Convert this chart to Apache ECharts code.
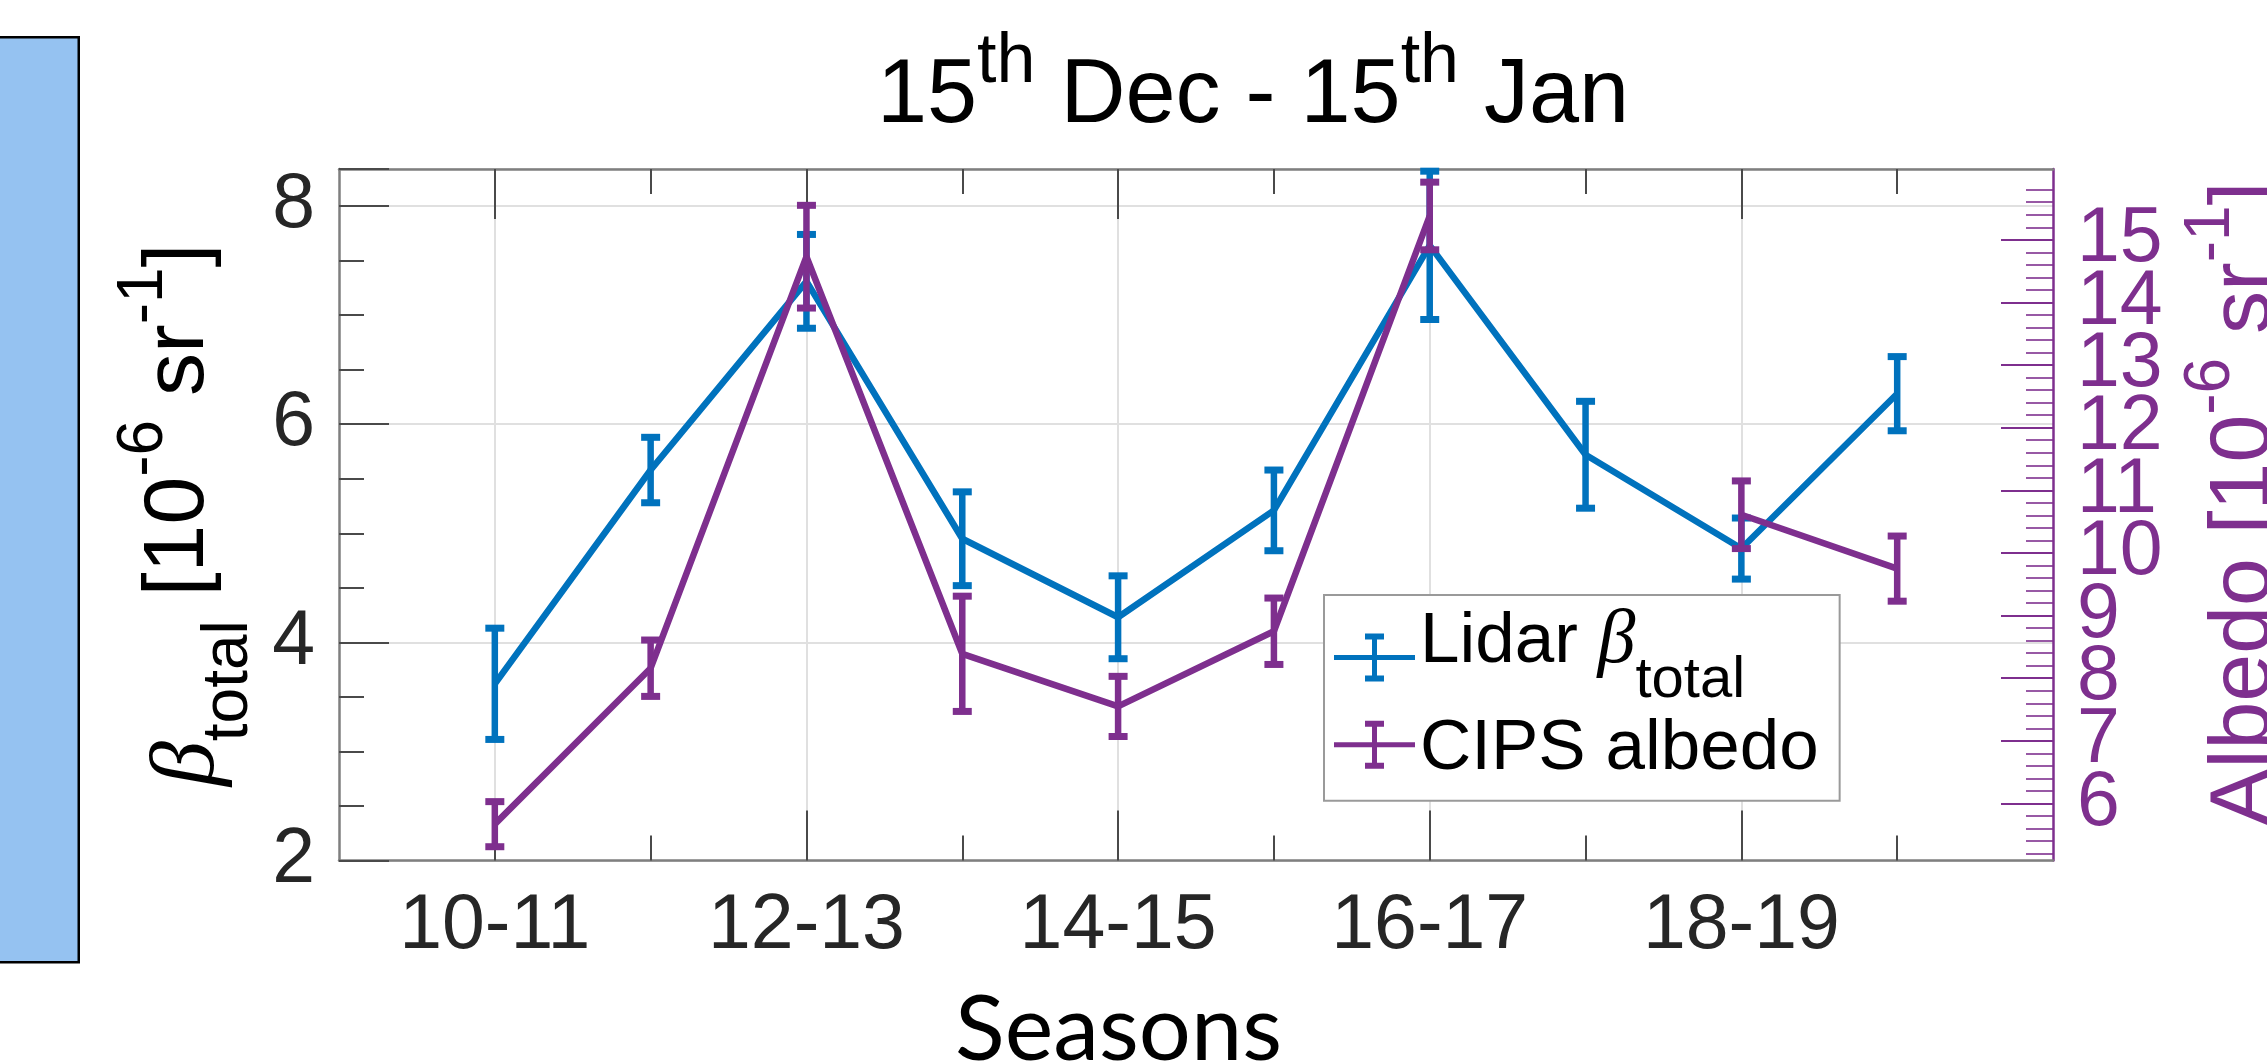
<!DOCTYPE html>
<html>
<head>
<meta charset="utf-8">
<script src="https://cdn.jsdelivr.net/npm/echarts@6/dist/echarts.min.js"></script>
<style>
html,body{margin:0;padding:0;background:#fff;}
#chart{width:2267px;height:1064px;}
</style>
</head>
<body>
<div id="chart"></div>
<script>
// ---------------- data ----------------
const seasons = ['10-11','11-12','12-13','13-14','14-15','15-16','16-17','17-18','18-19','19-20'];
const labeledSeasons = ['10-11','12-13','14-15','16-17','18-19'];
const lidarBeta = [3.62, 5.58, 7.31, 4.95, 4.23, 5.21, 7.64, 5.72, 4.86, 6.28];
const lidarErr  = [0.51, 0.30, 0.43, 0.43, 0.38, 0.37, 0.68, 0.49, 0.28, 0.34];
const cipsAlbedo = [5.67, 8.16, 14.73, 8.39, 7.55, 8.75, 15.38, null, 10.61, 9.75];
const cipsErr    = [0.36, 0.45, 0.82, 0.92, 0.48, 0.53, 0.54, null, 0.54, 0.52];
const leftTickLabels = [2, 4, 6, 8];
const rightTickLabels = [6, 7, 8, 9, 10, 11, 12, 13, 14, 15];

// ---------------- styling ----------------
const BLUE = '#0072BD';
const PURPLE = '#7E2F8E';
const FONT = '"Liberation Sans", Arial, Helvetica, sans-serif';
const SERIF = '"Liberation Serif", "DejaVu Serif", serif';
const AXIS_GRAY = '#7f7f7f';
const TICK_GRAY = '#4a4a4a';
const GRID_GRAY = '#e0e0e0';
const LEFT_MIN = 2, LEFT_MAX = 8.34;
const RIGHT_MIN = 5.09, RIGHT_MAX = 16.13;
const LW = 6.5;

const cats = [''].concat(seasons, ['']);
const isLabeled = (i) => labeledSeasons.indexOf(cats[i]) >= 0;
const isMinor = (i) => i >= 1 && i <= seasons.length && !isLabeled(i);

// right labels are split over two overlaid axes so that ECharts does not drop touching labels
const rightLabelsEven = rightTickLabels.filter((v) => v % 2 === 0);
const rightLabelsOdd = rightTickLabels.filter((v) => v % 2 === 1);

const rightMinor = [];
for (let k = 26; k <= 80; k++) { if (k % 5 !== 0) rightMinor.push(+(k * 0.2).toFixed(1)); }

const lidarLine = lidarBeta.map((v, i) => [i + 1, v]);
const lidarBars = lidarBeta.map((v, i) => [i + 1, v - lidarErr[i], v + lidarErr[i]]);
const cipsLine = cipsAlbedo.map((v, i) => [i + 1, v]);
const cipsBars = cipsAlbedo.map((v, i) => v == null ? [i + 1, null, null] : [i + 1, v - cipsErr[i], v + cipsErr[i]]);

function errRender(color) {
  return function (params, api) {
    const lo = api.value(1), hi = api.value(2);
    if (lo == null || isNaN(lo)) return null;
    const x = api.value(0);
    const top = api.coord([x, hi]);
    const bot = api.coord([x, lo]);
    const cw = 9.5, ch = 3.5;
    return {
      type: 'group',
      children: [
        { type: 'line', shape: { x1: top[0], y1: top[1], x2: bot[0], y2: bot[1] }, style: { stroke: color, lineWidth: LW } },
        { type: 'rect', shape: { x: top[0] - cw, y: top[1] - ch, width: 2 * cw, height: 2 * ch }, style: { fill: color } },
        { type: 'rect', shape: { x: bot[0] - cw, y: bot[1] - ch, width: 2 * cw, height: 2 * ch }, style: { fill: color } }
      ]
    };
  };
}

const ICON = 'path://M0,21.5h81v5h-81z M38,0h5v48h-5z M31,0h19v6h-19z M31,42h19v6h-19z';

function xAxisDef(position, lengthTicks, intervalFn, main) {
  return {
    type: 'category', data: cats, boundaryGap: false, position: position,
    axisLine: { show: main, lineStyle: { color: AXIS_GRAY, width: 2.5 } },
    axisTick: { show: true, inside: true, length: lengthTicks, interval: intervalFn, lineStyle: { color: TICK_GRAY, width: 2 } },
    axisLabel: { show: false },
    splitLine: { show: false }
  };
}

const xMain = xAxisDef('bottom', 50, (i) => isLabeled(i), true);
xMain.axisLabel = { show: true, interval: (i) => isLabeled(i), color: '#262626', fontSize: 77, fontFamily: FONT, margin: 28 };
xMain.splitLine = { show: true, interval: (i) => isLabeled(i), lineStyle: { color: GRID_GRAY, width: 2 } };

const rightLabelStyle = (vals) => ({ customValues: vals, showMinLabel: true, showMaxLabel: true,
  color: PURPLE, fontSize: 77, fontFamily: FONT, margin: 24 });

const option = {
  animation: false,
  backgroundColor: '#ffffff',
  title: {
    text: '{n|15}{s|th}{n| Dec - 15}{s|th}{n| Jan}',
    left: 877, top: 28, padding: 0,
    textStyle: {
      fontWeight: 'normal',
      rich: {
        n: { fontSize: 90, fontFamily: FONT, fontWeight: 'normal', color: '#000' },
        s: { fontSize: 70, fontFamily: FONT, fontWeight: 'normal', color: '#000', padding: [0, 0, 68, 0] }
      }
    }
  },
  grid: { left: 339, right: 214, top: 169, bottom: 203.5, containLabel: false, outerBoundsMode: 'none' },
  legend: {
    orient: 'vertical', left: 1324, top: 595,
    padding: [9.5, 21, 16, 10], itemGap: 3.7, itemWidth: 81, itemHeight: 48,
    backgroundColor: '#ffffff', borderColor: '#9a9a9a', borderWidth: 2,
    itemStyle: { borderWidth: 0 },
    data: [{ name: 'Lidar', icon: ICON }, { name: 'CIPS albedo', icon: ICON }],
    formatter: (n) => n === 'Lidar' ? '{a|Lidar }{b|β}{c|total}' : '{d|CIPS albedo}',
    textStyle: {
      color: '#000', fontFamily: FONT, fontSize: 71,
      rich: {
        a: { fontSize: 71, fontFamily: FONT, color: '#000', padding: [0, 0, 30, 0] },
        b: { fontSize: 76, fontFamily: SERIF, fontStyle: 'italic', color: '#000', padding: [0, 0, 30, 0] },
        c: { fontSize: 58, fontFamily: FONT, color: '#000', padding: [47, 0, 0, 0] },
        d: { fontSize: 71, fontFamily: FONT, color: '#000', padding: [9, 0, 0, 0] }
      }
    }
  },
  xAxis: [
    xMain,
    xAxisDef('bottom', 25, (i) => isMinor(i), false),
    xAxisDef('top', 50, (i) => isLabeled(i), true),
    xAxisDef('top', 25, (i) => isMinor(i), false)
  ],
  yAxis: [
    {
      type: 'value', position: 'left', min: LEFT_MIN, max: LEFT_MAX, interval: 2,
      axisLine: { show: true, lineStyle: { color: AXIS_GRAY, width: 2.5 } },
      axisTick: { show: true, inside: true, length: 50, lineStyle: { color: TICK_GRAY, width: 2 } },
      axisLabel: { customValues: leftTickLabels, showMinLabel: true, showMaxLabel: true, color: '#262626', fontSize: 77, fontFamily: FONT, margin: 24 },
      splitLine: { show: true, lineStyle: { color: GRID_GRAY, width: 2 } },
      name: '{b|β}{s|total}{n| [10}{p|-6}{n| sr}{p|-1}{n|]}',
      nameLocation: 'middle', nameRotate: 90, nameGap: 75,
      nameTextStyle: {
        color: '#000', fontFamily: FONT, fontSize: 86,
        rich: {
          b: { fontSize: 90, fontFamily: SERIF, fontStyle: 'italic', color: '#000', padding: [20, 0, 0, 0] },
          s: { fontSize: 64, fontFamily: FONT, color: '#000', padding: [100, 0, 0, 0] },
          n: { fontSize: 86, fontFamily: FONT, color: '#000' },
          p: { fontSize: 64, fontFamily: FONT, color: '#000', padding: [0, 0, 69, 0] }
        }
      }
    },
    {
      type: 'value', position: 'left', min: LEFT_MIN, max: LEFT_MAX, interval: 0.5,
      axisLine: { show: false },
      axisTick: { show: true, inside: true, length: 25, lineStyle: { color: TICK_GRAY, width: 2 } },
      axisLabel: { show: false }, splitLine: { show: false }
    },
    {
      type: 'value', position: 'right', min: RIGHT_MIN, max: RIGHT_MAX,
      axisLine: { show: true, lineStyle: { color: PURPLE, width: 2.5 } },
      axisTick: { show: true, inside: true, length: 52, customValues: rightTickLabels, lineStyle: { color: PURPLE, width: 2 } },
      axisLabel: rightLabelStyle(rightLabelsEven),
      splitLine: { show: false },
      name: '{n|Albedo [10}{p|-6}{n| sr}{p|-1}{n|]}',
      nameLocation: 'middle', nameRotate: 90, nameGap: 126,
      nameTextStyle: {
        color: PURPLE, fontFamily: FONT, fontSize: 86, padding: [0, 0, 0, 22],
        rich: {
          n: { fontSize: 86, fontFamily: FONT, color: PURPLE },
          p: { fontSize: 64, fontFamily: FONT, color: PURPLE, padding: [0, 0, 69, 0] }
        }
      }
    },
    {
      type: 'value', position: 'right', min: RIGHT_MIN, max: RIGHT_MAX,
      axisLine: { show: false },
      axisTick: { show: true, inside: true, length: 27, customValues: rightMinor, lineStyle: { color: PURPLE, width: 2, opacity: 0.8 } },
      axisLabel: rightLabelStyle(rightLabelsOdd),
      splitLine: { show: false }
    }
  ],
  series: [
    { name: 'Lidar', type: 'line', xAxisIndex: 0, yAxisIndex: 0, data: lidarLine, symbol: 'none',
      lineStyle: { color: BLUE, width: LW }, itemStyle: { color: BLUE }, z: 3 },
    { name: 'Lidar', type: 'custom', xAxisIndex: 0, yAxisIndex: 0, data: lidarBars, renderItem: errRender(BLUE),
      encode: { x: 0, y: [1, 2] }, itemStyle: { color: BLUE }, z: 3 },
    { name: 'CIPS albedo', type: 'line', xAxisIndex: 0, yAxisIndex: 2, data: cipsLine, symbol: 'none', connectNulls: false,
      lineStyle: { color: PURPLE, width: LW }, itemStyle: { color: PURPLE }, z: 4 },
    { name: 'CIPS albedo', type: 'custom', xAxisIndex: 0, yAxisIndex: 2, data: cipsBars, renderItem: errRender(PURPLE),
      encode: { x: 0, y: [1, 2] }, itemStyle: { color: PURPLE }, z: 4 }
  ],
  graphic: [
    { type: 'rect', left: -4, top: 36, shape: { x: 0, y: 0, width: 81.5, height: 925 },
      style: { fill: '#95c2f1', stroke: '#000', lineWidth: 2.5 }, z: 10 },
    { type: 'text', x: 955, y: 1030, style: { text: 'Seasons', fontFamily: 'Lato, "Open Sans", sans-serif', fontSize: 92,
      fill: '#000', verticalAlign: 'middle', align: 'left' }, z: 10 }
  ]
};

const chart = echarts.init(document.getElementById('chart'), null, { renderer: 'canvas' });
chart.setOption(option);
</script>
</body>
</html>
